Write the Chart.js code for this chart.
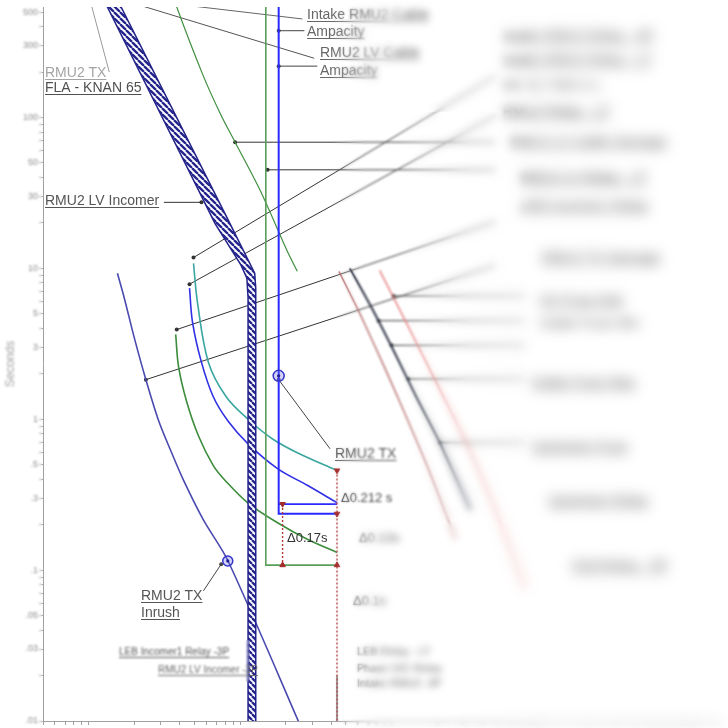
<!DOCTYPE html>
<html><head><meta charset="utf-8">
<script src="https://cdn.jsdelivr.net/npm/chart.js@4.4.1/dist/chart.umd.min.js"></script>
<style>
html,body{margin:0;padding:0;background:#fff;overflow:hidden}
#wrap{position:relative;width:728px;height:728px}
canvas{display:block}
.blur{position:absolute;pointer-events:none}
#b1{left:0;top:0;width:728px;height:728px;backdrop-filter:blur(1.3px);-webkit-backdrop-filter:blur(1.3px);
 mask-image:linear-gradient(to right,transparent 330px,#000 365px);-webkit-mask-image:linear-gradient(to right,transparent 330px,#000 365px)}
#b2top{left:0;top:0;width:728px;height:112px;backdrop-filter:blur(3.5px);-webkit-backdrop-filter:blur(3.5px);
 mask-image:linear-gradient(to right,transparent 345px,#000 395px);-webkit-mask-image:linear-gradient(to right,transparent 345px,#000 395px)}
#b2mid{left:0;top:112px;width:728px;height:410px;backdrop-filter:blur(3px);-webkit-backdrop-filter:blur(3px);
 mask-image:linear-gradient(to right,transparent 395px,#000 470px);-webkit-mask-image:linear-gradient(to right,transparent 395px,#000 470px)}
#b2low{left:0;top:522px;width:728px;height:206px;backdrop-filter:blur(3.5px);-webkit-backdrop-filter:blur(3.5px);
 mask-image:linear-gradient(to right,transparent 345px,#000 385px);-webkit-mask-image:linear-gradient(to right,transparent 345px,#000 385px)}
#b3{left:0;top:0;width:728px;height:728px;backdrop-filter:blur(6px);-webkit-backdrop-filter:blur(6px);
 mask-image:linear-gradient(to right,transparent 440px,#000 540px);-webkit-mask-image:linear-gradient(to right,transparent 440px,#000 540px)}
#bL{left:0;top:0;width:42px;height:728px;backdrop-filter:blur(1.3px);-webkit-backdrop-filter:blur(1.3px)}
#bBL{left:100px;top:640px;width:150px;height:42px;backdrop-filter:blur(0.9px);-webkit-backdrop-filter:blur(0.9px)}
</style></head><body>
<div id="wrap"><canvas id="c" width="728" height="728"></canvas>
<div class="blur" id="b1"></div><div class="blur" id="b2top"></div><div class="blur" id="b2mid"></div><div class="blur" id="b2low"></div>
<div class="blur" id="b3"></div><div class="blur" id="bL"></div><div class="blur" id="bBL"></div>
</div>
<script>
// ---------- axis ticks ----------
const yMajorTicks = [0.01,0.03,0.05,0.1,0.3,0.5,1,3,5,10,30,50,100,300,500];
const yMajorLabels = ['.01','.03','.05','.1','.3','.5','1','3','5','10','30','50','100','300','500'];
const yMinorTicks = [0.02,0.04,0.06,0.07,0.08,0.09,0.2,0.4,0.6,0.7,0.8,0.9,2,4,6,7,8,9,20,40,60,70,80,90,200,400];
const xTickDecades = [10,100,1000,10000,100000,1000000];
const xTickMultipliers = [1,2,3,4,5,6,7,8,9];

// ---------- curves: [current (A), time (s)] ----------
const lvIncomerMin = [[105,850],[133,540],[686,19.7],[1015,10.5],[1110,8.6],[1130,6.4],[1130,0.007]];
const lvIncomerMax = [[131,850],[164,540],[860,19.7],[1250,9.3],[1270,7.4],[1270,0.007]];
const lvCableDamage = [[349,730],[382,540],[573,188],[751,103],[928,68.6],[1350,33.3],[2060,12.9],[2390,9.56]];
const lvRelayStep = [[1480,730],[1480,0.108],[4370,0.108]];
const intakeRelayStep = [[1800,730],[1800,0.236],[4370,0.236]];
const intakeRelayInst = [[1800,0.274],[4370,0.274]];
const tealRelay = [[493,10.8],[524,5.9],[618,2.39],[810,1.41],[1130,1.0],[1640,0.74],[2390,0.60],[4370,0.457]];
const blueRelay = [[464,7.4],[486,4.37],[556,2.39],[666,1.41],[835,0.97],[1130,0.687],[1770,0.471],[2780,0.365],[4370,0.28]];
const greenRelay = [[376,3.65],[393,2.22],[444,1.31],[532,0.774],[666,0.493],[798,0.393],[1130,0.278],[1770,0.206],[2780,0.160],[4370,0.131]];
const txCurve = [[155,9.28],[172,6.37],[200,3.49],[239,1.83],[291,0.97],[349,0.618],[424,0.393],[573,0.215],[835,0.1145],[2780,0.0073]];
const hvDark = [[5310,10],[7400,5.48],[10460,2.78],[14570,1.41],[20600,0.718],[33300,0.25]];
const hvBrown = [[4500,9.56],[6370,4.71],[9280,2.06],[12900,0.97],[17700,0.457],[26600,0.16]];
const hvRed = [[8350,9.7],[12530,4.37],[18250,2.06],[24670,1.13],[32350,0.647],[48570,0.25],[76300,0.075]];
const txPoint = [[1800,1.94]];
const inrushPoint = [[830,0.115]];
const deltaMain = [[4370,0.457],[4370,0.01]];
const deltaSide = [[1910,0.274],[1910,0.108]];
const deltaTopMarks = [[4370,0.457],[4370,0.236],[1910,0.274]];
const deltaBottomMarks = [[4370,0.108],[1910,0.108]];
const instTail = [[4370,0.02],[4370,0.01]];

// ---------- leaders: [current, time] ----------
const ldTeal = [[493,11.8],[48600,188]];
const ldBlue = [[464,7.86],[48600,103]];
const ldGreen = [[382,3.93],[48600,20.4]];
const ldTx = [[239,1.83],[48600,10.5]];
const ldCable = [[928,68.6],[48600,68.6]];
const ldLvRelay = [[1520,45],[48600,45]];
const ldHv1 = [[10300,6.56],[76300,6.56]];
const ldHv2 = [[8220,4.5],[76300,4.5]];
const ldHv3 = [[10000,3.09],[76300,3.09]];
const ldHv4 = [[12900,1.85],[76300,1.85]];
const ldHv5 = [[20900,0.70],[76300,0.70]];
const ldFla = [[137,200],[99,676]];
const ldLvCableLbl = [[3090,247],[114,676]];
const ldIntakeLbl = [[2580,450],[82,676]];
const ldIntakeAmp = [[1800,376],[2660,376]];
const ldLvAmp = [[1800,219],[3240,219]];
const ldLvIncomer = [[314,27.4],[556,27.4]];
const ldTxLbl = [[1800,1.83],[3930,0.637]];
const ldInrush = [[573,0.0729],[751,0.1095]];

// ---------- text annotations (pixel layout) ----------
const FONT = '"Liberation Sans", Arial, sans-serif';
const textLabels = [
  {t:'RMU2 TX', x:45, y:77, s:14, c:'#a4a4a4', u:true},
  {t:'FLA - KNAN 65', x:45, y:92, s:14, c:'#505050', u:true},
  {t:'RMU2 LV Incomer', x:45, y:205, s:14, c:'#555', u:true},
  {t:'Intake RMU2 Cable', x:307, y:19, s:14, c:'#666', u:true},
  {t:'Ampacity', x:307, y:36, s:14, c:'#666', u:true},
  {t:'RMU2 LV Cable', x:320, y:57, s:14, c:'#666', u:true},
  {t:'Ampacity', x:320, y:75, s:14, c:'#666', u:true},
  {t:'RMU2 TX', x:335, y:458, s:14, c:'#555', u:true},
  {t:'RMU2 TX', x:141, y:600, s:14, c:'#555', u:true},
  {t:'Inrush', x:141, y:617, s:14, c:'#555', u:true},
  {t:'LEB Incomer1 Relay -3P', x:119, y:655, s:10, c:'#555', u:true},
  {t:'RMU2 LV Incomer -3P', x:158, y:673, s:10, c:'#666', u:true},
  {t:'\u03940.212 s', x:341, y:502, s:13, c:'#444'},
  {t:'\u03940.17s', x:287, y:542, s:13, c:'#333'},
  {t:'\u03940.13s', x:359, y:542, s:13, c:'#666'},
  {t:'\u03940.1s', x:353, y:605, s:13, c:'#666'},
  {t:'LEB Relay - LT', x:357, y:655, s:11, c:'#666'},
  {t:'Phase O/C Relay', x:357, y:672, s:11, c:'#666'},
  {t:'Intake RMU2 -3P', x:357, y:687, s:11, c:'#666'},
  {t:'Intake RMU2 Relay - 3P', x:503, y:40, s:14, c:'#666', u:true},
  {t:'Intake RMU2 Relay - LT', x:503, y:64, s:14, c:'#666', u:true},
  {t:'OC 51 TMS 0.1', x:503, y:90, s:14, c:'#666'},
  {t:'RMU2 Relay - LT', x:503, y:116, s:14, c:'#555', u:true},
  {t:'RMU2 LV Cable Damage', x:510, y:146, s:14, c:'#666', u:true},
  {t:'RMU2 LV Relay - LT', x:520, y:182, s:14, c:'#555', u:true},
  {t:'LEB Incomer1 Relay', x:520, y:210, s:14, c:'#666', u:true},
  {t:'RMU2 TX Damage', x:542, y:262, s:14, c:'#666', u:true},
  {t:'HV Fuse 63A', x:540, y:305, s:14, c:'#666', u:true},
  {t:'Intake Fuse Min', x:540, y:328, s:14, c:'#666'},
  {t:'Intake Fuse Max', x:532, y:387, s:14, c:'#666', u:true},
  {t:'Upstream Fuse', x:532, y:451, s:14, c:'#666', u:true},
  {t:'Upstream Relay', x:548, y:505, s:14, c:'#666', u:true},
  {t:'Grid Relay - 3P', x:572, y:570, s:14, c:'#666', u:true}
];

// ---------- helpers ----------
const P = a => a.map(([x,y]) => ({x, y}));
function line(data, color, width, extra) {
  return Object.assign({data:P(data), showLine:true, borderColor:color, backgroundColor:color,
    borderWidth:width, pointRadius:0, pointHoverRadius:0, tension:0, fill:false}, extra || {});
}
function leader(data, color, dotAt) {
  return line(data, color, 1, {pointRadius:data.map((_,i)=> i===dotAt ? 2 : 0),
    pointBackgroundColor:color, pointBorderWidth:0});
}
function hatch() {
  const c = document.createElement('canvas'); c.width = 6; c.height = 6;
  const g = c.getContext('2d');
  g.fillStyle = '#ffffff'; g.fillRect(0,0,6,6);
  g.strokeStyle = '#25258e'; g.lineWidth = 2.3;
  g.beginPath();
  for (const o of [-6,0,6]) { g.moveTo(o,0); g.lineTo(o+6,6); }
  g.stroke();
  return g.createPattern(c, 'repeat');
}
const xTicks = [];
xTickDecades.forEach(d => xTickMultipliers.forEach(m => xTicks.push(m*d)));
const yTickText = new Map(yMajorTicks.map((v,i)=>[v, yMajorLabels[i]]));
const yTicks = [...yMajorTicks, ...yMinorTicks].sort((a,b)=>a-b);

const labelPlugin = {
  id:'labels',
  afterDatasetsDraw(chart) {
    const ctx = chart.ctx;
    ctx.save();
    textLabels.forEach(l => {
      ctx.font = l.s + 'px ' + FONT;
      ctx.fillStyle = l.c;
      ctx.textBaseline = 'alphabetic';
      ctx.fillText(l.t, l.x, l.y);
      if (l.u) {
        const w = ctx.measureText(l.t).width;
        ctx.fillRect(l.x, l.y + 2, w, 1);
      }
    });
    ctx.restore();
  }
};

const datasets = [
  {data:P(inrushPoint), showLine:false, pointRadius:1.6, pointBackgroundColor:'#1e1e90', pointBorderWidth:0},
  {data:P(txPoint), showLine:false, pointRadius:1.6, pointBackgroundColor:'#1e1e90', pointBorderWidth:0},
  {data:P(inrushPoint), showLine:false, pointRadius:5, pointBackgroundColor:'rgba(110,110,240,0.3)', pointBorderColor:'#3434c8', pointBorderWidth:1.5},
  {data:P(txPoint), showLine:false, pointRadius:5.5, pointBackgroundColor:'rgba(110,110,240,0.3)', pointBorderColor:'#3434c8', pointBorderWidth:1.5},
  {data:P(deltaTopMarks), showLine:false, pointStyle:'triangle', rotation:180, pointRadius:3.2, pointBackgroundColor:'#a42a2a', pointBorderColor:'#a42a2a'},
  {data:P(deltaBottomMarks), showLine:false, pointStyle:'triangle', rotation:0, pointRadius:3.2, pointBackgroundColor:'#a42a2a', pointBorderColor:'#a42a2a'},
  line(deltaMain, '#b23a3a', 1.4, {borderDash:[2,2]}),
  line(deltaSide, '#b23a3a', 1.4, {borderDash:[2,2]}),
  line(lvIncomerMin.concat(lvIncomerMax.slice().reverse()), '#22228a', 1.5, {fill:'shape', backgroundColor:hatch()}),
  line(intakeRelayStep, '#2a2aff', 2),
  line(intakeRelayInst, '#2a2aff', 1.6),
  line(lvRelayStep, '#5a9e5a', 1.6),
  line(lvCableDamage, '#3f8f3f', 1.2, {tension:0.3}),
  line(tealRelay, '#3aa6a0', 1.6, {tension:0.35}),
  line(blueRelay, '#3030e6', 1.6, {tension:0.35}),
  line(greenRelay, '#3c8c3c', 1.6, {tension:0.35}),
  line(txCurve, '#4a4ab0', 1.6, {tension:0.3}),
  line(instTail, '#9a9a9a', 2),
  line(hvDark, '#2e3344', 2, {tension:0.2}),
  line(hvBrown, '#b87070', 1.5, {tension:0.2}),
  line(hvRed, '#e47a7a', 1.5, {tension:0.2}),
  leader(ldTeal, '#333', 0),
  leader(ldBlue, '#333', 0),
  leader(ldGreen, '#333', 0),
  leader(ldTx, '#333', 0),
  leader(ldCable, '#333', 0),
  leader(ldLvRelay, '#333', 0),
  leader(ldHv1, '#333', 0),
  leader(ldHv2, '#333', 0),
  leader(ldHv3, '#333', 0),
  leader(ldHv4, '#333', 0),
  leader(ldHv5, '#333', 0),
  leader(ldFla, '#9a9a9a', -1),
  leader(ldLvCableLbl, '#555', -1),
  leader(ldIntakeLbl, '#666', -1),
  leader(ldIntakeAmp, '#444', 0),
  leader(ldLvAmp, '#444', 0),
  leader(ldLvIncomer, '#333', 1),
  leader(ldTxLbl, '#444', 0),
  leader(ldInrush, '#444', 1)
];

new Chart(document.getElementById('c'), {
  type:'scatter',
  data:{datasets},
  options:{
    responsive:false, animation:false, devicePixelRatio:1, events:[],
    layout:{padding:0},
    plugins:{legend:{display:false}, tooltip:{enabled:false}},
    scales:{
      x:{type:'logarithmic', position:'bottom', min:50, max:1.5e6,
        border:{color:'#a0a0a0', width:1},
        grid:{drawOnChartArea:false, drawTicks:true, tickLength:4, color:'#a0a0a0'},
        ticks:{display:false, autoSkip:false},
        afterBuildTicks: s => { s.ticks = xTicks.filter(v => v>=50 && v<=1.5e6).map(v=>({value:v})); },
        afterFit: s => { s.height = 4; s.paddingLeft = 0; s.paddingRight = 0; }
      },
      y:{type:'logarithmic', position:'left', min:0.01, max:540,
        border:{color:'#a0a0a0', width:1},
        grid:{drawOnChartArea:false, drawTicks:true, tickLength:4, color:'#a8a8a8'},
        ticks:{autoSkip:false, padding:1, color:'#8c8c8c', font:{size:9, family:FONT},
          callback: v => yTickText.has(v) ? yTickText.get(v) : ''},
        title:{display:true, text:'Seconds', color:'#a4a4a4', font:{size:12, family:FONT}, padding:{top:3, bottom:0}},
        afterBuildTicks: s => { s.ticks = yTicks.map(v=>({value:v})); },
        afterFit: s => { s.width = 43; s.paddingTop = 0; s.paddingBottom = 0; }
      }
    }
  },
  plugins:[labelPlugin]
});
</script>
</body></html>
